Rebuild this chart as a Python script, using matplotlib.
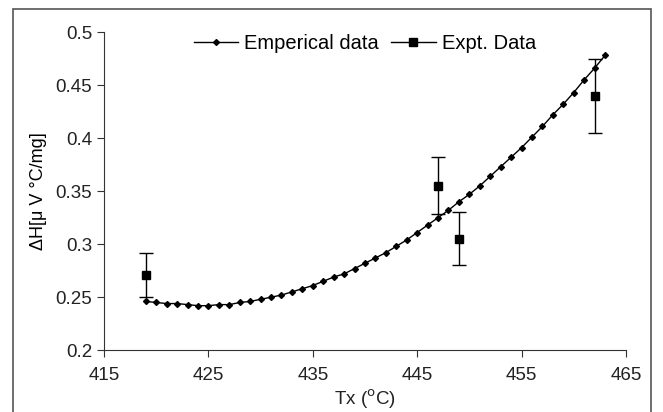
import matplotlib.pyplot as plt
from matplotlib.patches import Rectangle
from matplotlib.lines import Line2D
from matplotlib.ticker import FuncFormatter

plt.rcParams['font.family'] = ['Liberation Sans', 'DejaVu Sans']

# Эмпирическая кривая (шаг 1 °C)
emp_x = list(range(419, 464))
emp_y = [0.246, 0.245, 0.244, 0.244, 0.243, 0.242, 0.242, 0.243, 0.243, 0.245,
         0.246, 0.248, 0.250, 0.252, 0.255, 0.258, 0.261, 0.265, 0.269, 0.272,
         0.277, 0.282, 0.287, 0.292, 0.298, 0.304, 0.311, 0.318, 0.325, 0.332,
         0.340, 0.347, 0.355, 0.364, 0.373, 0.382, 0.391, 0.401, 0.411, 0.422,
         0.432, 0.443, 0.455, 0.466, 0.478]

# Экспериментальные точки
exp_x = [419, 447, 449, 462]
exp_y = [0.271, 0.355, 0.305, 0.440]
exp_err = [0.021, 0.027, 0.025, 0.035]

x_ticks = [415, 425, 435, 445, 455, 465]
y_ticks = [0.2, 0.25, 0.3, 0.35, 0.4, 0.45, 0.5]

fig = plt.figure(figsize=(6.63, 4.12), dpi=100)
ax = fig.add_axes([0.157, 0.150, 0.787, 0.772])

# рамка вокруг всего рисунка
fig.patches.append(Rectangle((0.019, -0.01), 0.963, 0.987, transform=fig.transFigure,
                             fill=False, edgecolor='#555555', linewidth=1.2))

ax.plot(emp_x, emp_y, color='black', linewidth=1, marker='D', markersize=3)
ax.errorbar(exp_x, exp_y, yerr=exp_err, color='black', linestyle='none',
            marker='s', markersize=6, elinewidth=1, capsize=5, capthick=1)

ax.set_xlim(415, 465)
ax.set_ylim(0.2, 0.5)
ax.set_xticks(x_ticks)
ax.set_yticks(y_ticks)
ax.yaxis.set_major_formatter(FuncFormatter(lambda v, p: f'{v:g}'))
ax.tick_params(direction='out', length=5, labelsize=13.5, colors='#333333',
               labelcolor='#222222')
ax.tick_params(axis='x', pad=7)
for s in ['top', 'right']:
    ax.spines[s].set_visible(False)
for s in ['left', 'bottom']:
    ax.spines[s].set_color('#333333')

ax.set_xlabel('Tx ($^{\\mathrm{o}}$C)', fontsize=13.5, labelpad=3, color='#222222')
ax.set_ylabel('ΔH[μ V °C/mg]', fontsize=13, labelpad=6)

h = [Line2D([], [], color='black', linewidth=1, marker='D', markersize=3),
     Line2D([], [], color='black', linewidth=1, marker='s', markersize=6)]
ax.legend(h, ['Emperical data', 'Expt. Data'], loc='upper center',
          bbox_to_anchor=(0.5, 1.05), ncol=2, frameon=False, fontsize=14.5,
          handlelength=2.2, handletextpad=0.3, columnspacing=0.6)

fig.savefig('out.png', dpi=100)
